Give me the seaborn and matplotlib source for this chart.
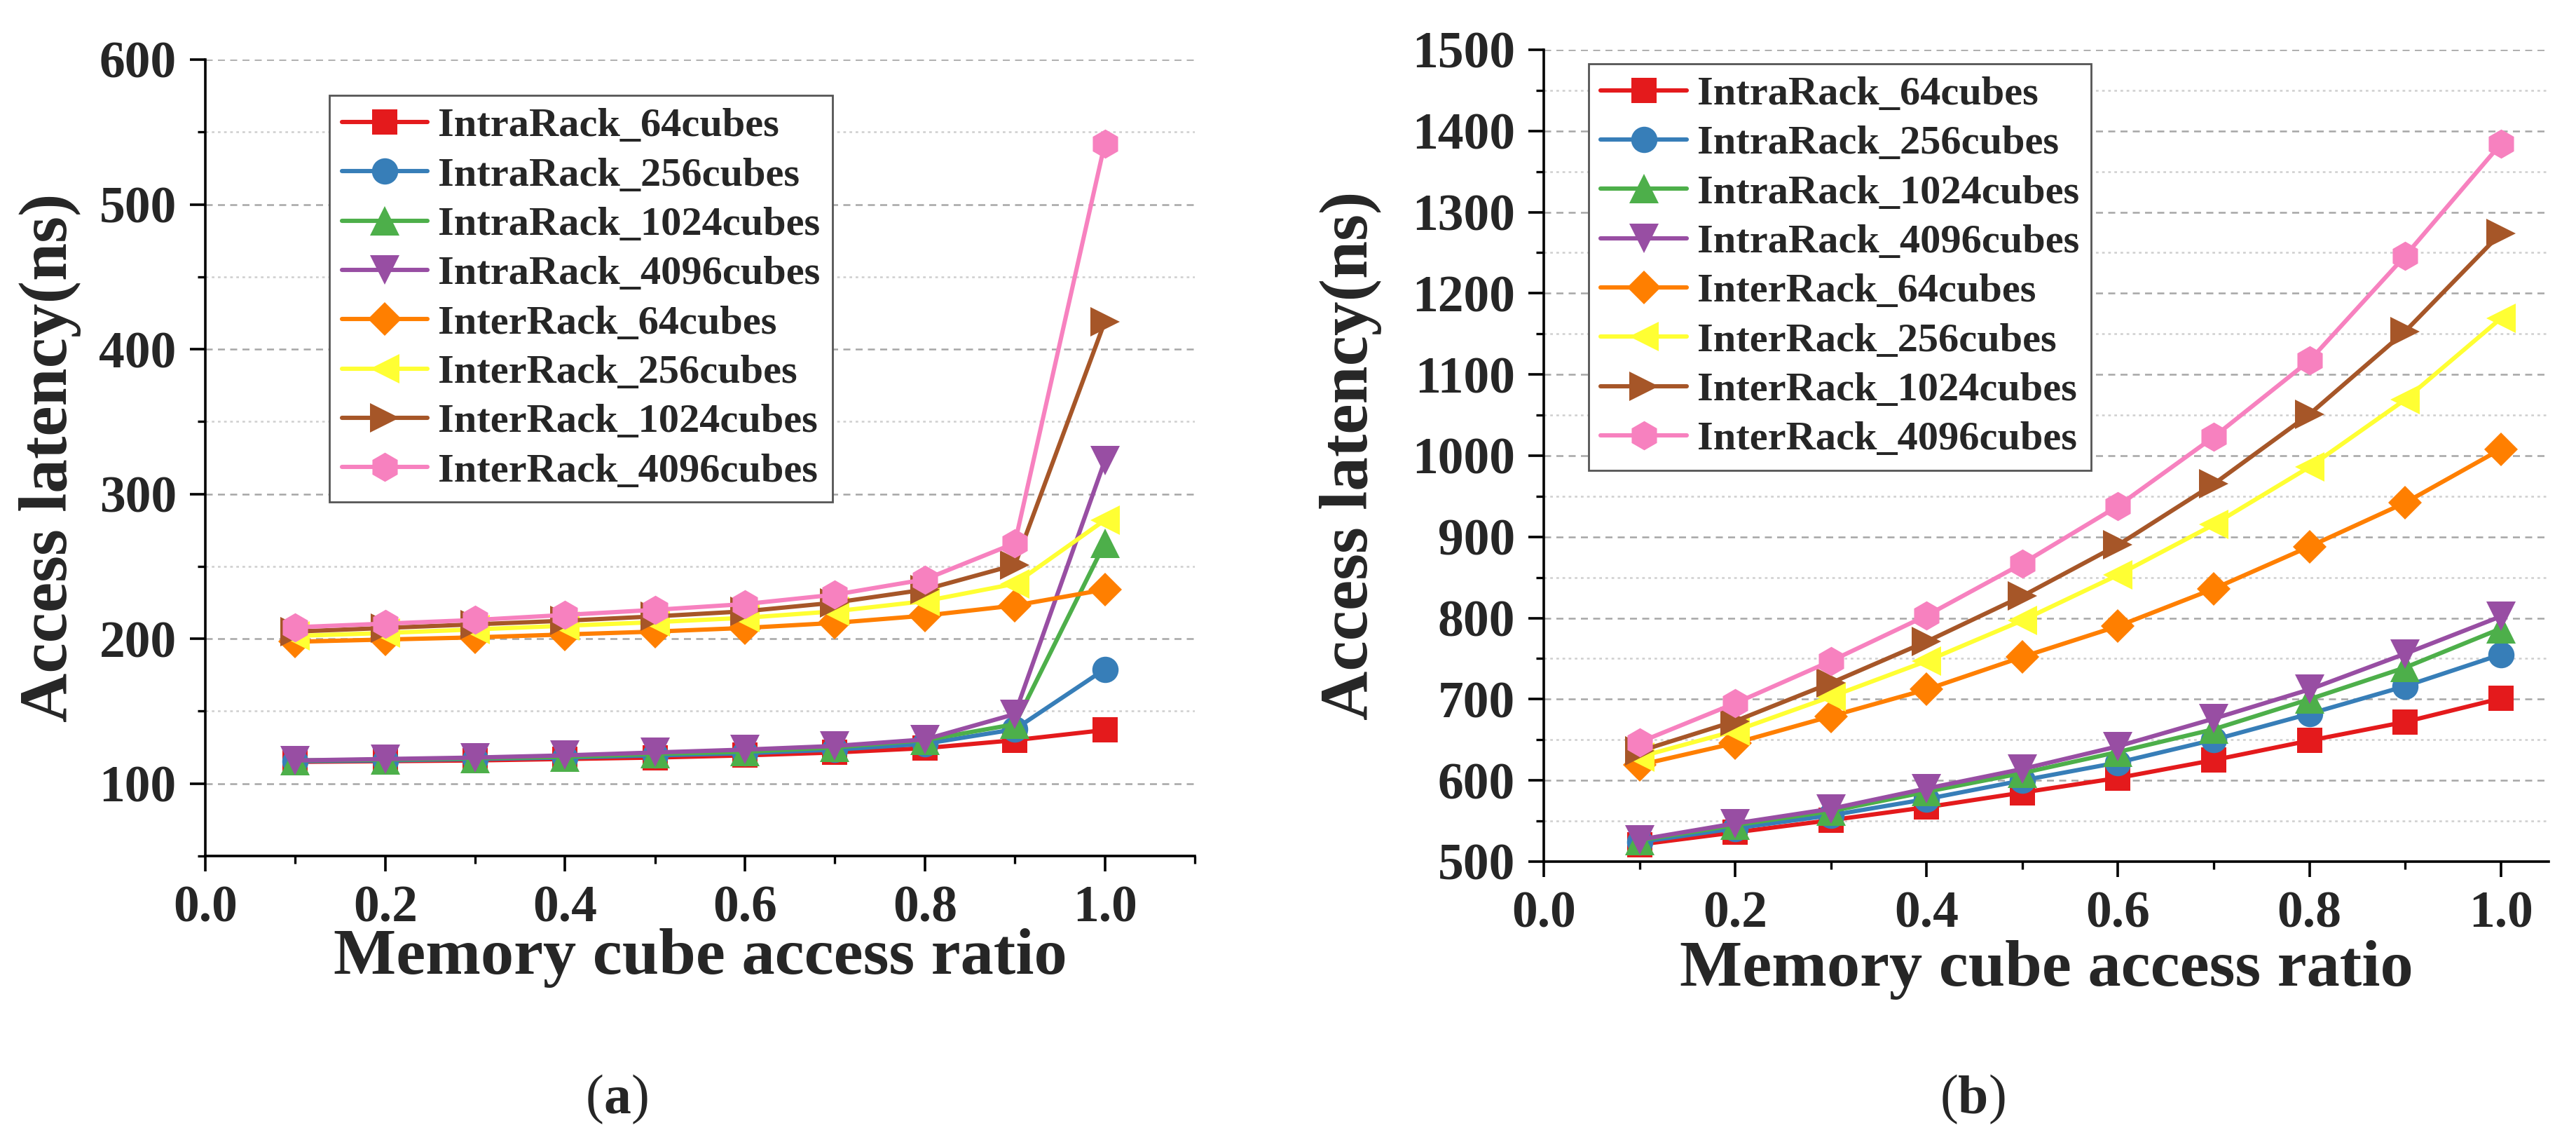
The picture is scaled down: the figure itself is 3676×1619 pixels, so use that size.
import numpy as np
import pandas as pd
import seaborn as sns
import matplotlib.pyplot as plt
from matplotlib.ticker import MultipleLocator

# ratio of memory cubes accessed
ratio = [0.1, 0.2, 0.3, 0.4, 0.5, 0.6, 0.7, 0.8, 0.9, 1.0]

series_names = ["IntraRack_64cubes", "IntraRack_256cubes", "IntraRack_1024cubes",
                "IntraRack_4096cubes", "InterRack_64cubes", "InterRack_256cubes",
                "InterRack_1024cubes", "InterRack_4096cubes"]

# (a) latency in ns
intra_64_a = [115, 115.5, 116, 117, 118, 119.5, 121.5, 124.5, 130, 137]
intra_256_a = [115.5, 116, 117, 118, 119.5, 121, 123.5, 127.5, 137.5, 179]
intra_1024_a = [116, 116.5, 117.5, 118.5, 120.5, 122, 125, 130, 141, 266]
intra_4096_a = [116, 117, 118, 119.5, 121.5, 123.5, 126, 130.5, 148, 323]
inter_64_a = [198, 199.5, 201, 203, 205, 207.5, 211, 216, 223, 234]
inter_256_a = [202, 204, 206.5, 209, 211.5, 214.5, 219, 226, 238, 282]
inter_1024_a = [205, 207.5, 210, 212.5, 215.5, 219, 225, 234, 251, 419]
inter_4096_a = [208, 210.5, 213, 216.5, 220, 224, 230.5, 241, 266, 542]

# (b) latency in ns
intra_64_b = [521, 536, 551, 567, 585, 603, 625, 649, 672, 701]
intra_256_b = [524, 541, 557, 577, 600, 622, 650, 682, 716, 755]
intra_1024_b = [526, 545, 562, 586, 609, 635, 663, 700, 739, 787]
intra_4096_b = [527, 547, 565, 590, 614, 642, 676, 712, 756, 802]
inter_64_b = [619, 646, 679, 712, 752, 790, 836, 888, 942, 1008]
inter_256_b = [629, 661, 703, 747, 797, 853, 915, 986, 1069, 1169]
inter_1024_b = [636, 673, 720, 771, 827, 890, 965, 1051, 1153, 1274]
inter_4096_b = [647, 695, 747, 803, 867, 938, 1023, 1117, 1246, 1384]

panel_a = [intra_64_a, intra_256_a, intra_1024_a, intra_4096_a,
           inter_64_a, inter_256_a, inter_1024_a, inter_4096_a]
panel_b = [intra_64_b, intra_256_b, intra_1024_b, intra_4096_b,
           inter_64_b, inter_256_b, inter_1024_b, inter_4096_b]

palette = sns.color_palette("Set1", 8)
marker_list = ["s", "o", "^", "v", "D", "<", ">", "h"]
# matplotlib sizes that give Origin-like equal symbol extents
marker_sizes = [13, 13.5, 15, 15, 12, 15, 15, 15]
marker_map = dict(zip(series_names, marker_list))

sns.set_theme(style="ticks")
plt.rcParams["font.family"] = ["Liberation Serif", "DejaVu Serif"]
plt.rcParams["font.weight"] = "bold"


def to_long(values):
    rows = []
    for name, ys in zip(series_names, values):
        for xv, yv in zip(ratio, ys):
            rows.append((name, xv, yv))
    return pd.DataFrame(rows, columns=["series", "ratio", "latency"])


fig = plt.figure(figsize=(18.38, 8.095), dpi=200)
ax_a = fig.add_axes([0.0797, 0.2458, 0.3841, 0.7017])
ax_b = fig.add_axes([0.5993, 0.2409, 0.3901, 0.7153])

panels = [
    # ax, data, ylim, xmax, legend anchor, tag, tag x, xlabel y, ylabel x
    (ax_a, panel_a, (50, 600), 1.1, (0.1255, 0.955), "a", 0.2397, -0.091, -0.125),
    (ax_b, panel_b, (500, 1500), 1.05, (0.0446, 0.983), "b", 0.7655, -0.097, -0.161),
]

for ax, values, ylim, xmax, leg_pos, tag, tag_x, xl_y, yl_x in panels:
    df = to_long(values)
    sns.lineplot(data=df, x="ratio", y="latency", hue="series", style="series",
                 hue_order=series_names, style_order=series_names,
                 palette=palette, markers=marker_map, dashes=False,
                 linewidth=2.2, markeredgewidth=0, legend=False, ax=ax)
    lines = ax.get_lines()[:8]
    for line, ms in zip(lines, marker_sizes):
        line.set_markersize(ms)

    ax.set_xlim(0, xmax)
    ax.set_ylim(*ylim)
    ax.xaxis.set_major_locator(MultipleLocator(0.2))
    ax.xaxis.set_minor_locator(MultipleLocator(0.1))
    ax.yaxis.set_major_locator(MultipleLocator(100))
    ax.yaxis.set_minor_locator(MultipleLocator(50))
    ax.xaxis.set_major_formatter(plt.FormatStrFormatter("%.1f"))

    ax.grid(axis="y", which="major", linestyle=(0, (4, 3)), color="#a6a6a6", linewidth=0.9)
    ax.grid(axis="y", which="minor", linestyle=(0, (1.5, 2)), color="#cfcfcf", linewidth=0.9)
    ax.set_axisbelow(True)

    for side in ["top", "right"]:
        ax.spines[side].set_visible(False)
    for side in ["left", "bottom"]:
        ax.spines[side].set_linewidth(1.3)
        ax.spines[side].set_color("black")

    ax.tick_params(which="major", direction="out", length=7.8, width=1.3,
                   labelsize=26.5, pad=7, color="black")
    ax.tick_params(which="minor", direction="out", length=3.8, width=1.2, color="black")
    for lab in ax.get_xticklabels() + ax.get_yticklabels():
        lab.set_fontweight("bold")

    ax.set_xlabel("Memory cube access ratio", fontsize=34, fontweight="bold")
    ax.set_ylabel("Access latency(ns)", fontsize=35, fontweight="bold")
    ax.xaxis.set_label_coords(0.5, xl_y)
    ax.yaxis.set_label_coords(yl_x, 0.5)

    leg = ax.legend(lines, series_names, loc="upper left",
                    bbox_to_anchor=leg_pos, frameon=True, fancybox=False,
                    edgecolor="#555555", framealpha=1, borderaxespad=0,
                    prop={"size": 21, "weight": "bold"}, handlelength=2.1,
                    handletextpad=0.25, labelspacing=0.3, borderpad=0.3)
    leg.get_frame().set_linewidth(1.0)

    # caption: regular parentheses around a bold letter
    t_open = fig.text(tag_x - 0.0124, 0.031, "(", ha="left", va="center",
                      fontsize=28, fontweight="normal")
    t_mid = ax.annotate(tag, xy=(1, 0), xycoords=t_open, ha="left", va="bottom",
                        fontsize=28, fontweight="bold", annotation_clip=False)
    ax.annotate(")", xy=(1, 0), xycoords=t_mid, ha="left", va="bottom",
                fontsize=28, fontweight="normal", annotation_clip=False)

fig.savefig("out.png", dpi=200, facecolor="white")
